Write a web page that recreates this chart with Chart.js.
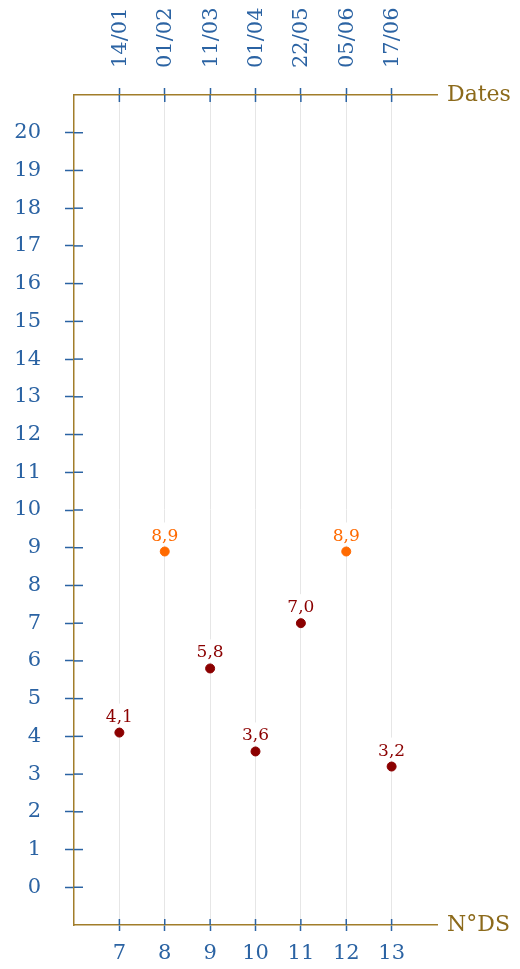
<!DOCTYPE html>
<html lang="fr">
<head>
  <meta charset="UTF-8" />
  <title>Notes DS</title>
  <script src="https://cdn.jsdelivr.net/npm/chart.js"></script>
  <style>
    body { margin: 0; background: #fff; }
    #wrap { width: 520px; height: 969px; position: relative; }
  </style>
</head>
<body>
  <div id="wrap"><canvas id="chart"></canvas></div>
  <script>
    // numéros de DS, dates et notes
    const dsNumbers = [7, 8, 9, 10, 11, 12, 13];
    const dsDates = ["14/01", "01/02", "11/03", "01/04", "22/05", "05/06", "17/06"];
    const notes = [4.1, 8.9, 5.8, 3.6, 7.0, 8.9, 3.2];
    const yTicks = [0, 1, 2, 3, 4, 5, 6, 7, 8, 9, 10, 11, 12, 13, 14, 15, 16, 17, 18, 19, 20];

    const BLUE = "#2b63a3";
    const GOLD = "#a17d2a";
    const GOLD_TEXT = "#8c6a1b";
    const RED = "#8b0000";
    const ORANGE = "#ff6a00";
    const FONT = "'DejaVu Serif', serif";

    const best = Math.max(...notes);
    const pointColors = notes.map(n => n === best ? ORANGE : RED);

    const fmt = v => v.toFixed(1).replace(".", ",");

    // demi-graduations côté intérieur, dates en haut, titres d'axes, étiquettes
    const extras = {
      id: "extras",
      afterDatasetsDraw(chart) {
        const { ctx, chartArea, scales } = chart;
        ctx.save();
        ctx.strokeStyle = BLUE;
        ctx.lineWidth = 1.5;
        yTicks.forEach(v => {
          const y = scales.y.getPixelForValue(v);
          ctx.beginPath();
          ctx.moveTo(chartArea.left, y);
          ctx.lineTo(chartArea.left + 9, y);
          ctx.stroke();
        });
        dsNumbers.forEach(v => {
          const x = scales.x.getPixelForValue(v);
          ctx.beginPath();
          ctx.moveTo(x, chartArea.bottom);
          ctx.lineTo(x, chartArea.bottom - 6);
          ctx.moveTo(x, chartArea.top);
          ctx.lineTo(x, chartArea.top + 7);
          ctx.stroke();
        });

        // dates verticales au-dessus de l'axe du haut
        ctx.fillStyle = BLUE;
        ctx.font = "21px " + FONT;
        ctx.textAlign = "left";
        ctx.textBaseline = "middle";
        dsNumbers.forEach((v, i) => {
          const x = scales.x2.getPixelForValue(v);
          ctx.save();
          ctx.translate(x + 1, chartArea.top - 27);
          ctx.rotate(-Math.PI / 2);
          ctx.fillText(dsDates[i], 0, 0);
          ctx.restore();
        });

        ctx.fillStyle = GOLD_TEXT;
        ctx.font = "22px " + FONT;
        ctx.fillText("Dates", chartArea.right + 10, chartArea.top);
        ctx.fillText("N°DS", chartArea.right + 10, chartArea.bottom);

        ctx.font = "17px " + FONT;
        ctx.textAlign = "center";
        ctx.textBaseline = "alphabetic";
        const meta = chart.getDatasetMeta(0);
        meta.data.forEach((pt, i) => {
          const txt = fmt(notes[i]);
          const w = ctx.measureText(txt).width;
          ctx.fillStyle = "#fff";
          ctx.fillRect(pt.x - w / 2 - 3, pt.y - 29, w + 6, 23);
          ctx.fillStyle = pointColors[i];
          ctx.fillText(txt, pt.x, pt.y - 11);
        });
        ctx.restore();
      }
    };

    new Chart(document.getElementById("chart"), {
      type: "scatter",
      data: {
        datasets: [{
          data: dsNumbers.map((n, i) => ({ x: n, y: notes[i] })),
          backgroundColor: pointColors,
          borderColor: pointColors,
          pointRadius: 4.5,
          pointHoverRadius: 4.5
        }]
      },
      options: {
        responsive: true,
        maintainAspectRatio: false,
        animation: false,
        layout: { padding: { top: 0, right: 83, bottom: 0, left: 0 } },
        plugins: { legend: { display: false }, tooltip: { enabled: false } },
        scales: {
          x: {
            type: "linear",
            position: "bottom",
            min: 6,
            max: 14,
            afterBuildTicks: s => { s.ticks = dsNumbers.map(v => ({ value: v })); },
            afterFit: s => { s.height = 44; },
            grid: { color: "#e6e6e6", lineWidth: 1, tickColor: BLUE, tickLength: 6, tickWidth: 1.5 },
            border: { color: GOLD, width: 1.5 },
            ticks: { color: BLUE, font: { family: FONT, size: 21 }, padding: 10, autoSkip: false, maxRotation: 0 }
          },
          x2: {
            type: "linear",
            position: "top",
            min: 6,
            max: 14,
            afterBuildTicks: s => { s.ticks = dsNumbers.map(v => ({ value: v })); },
            afterFit: s => { s.height = 95; },
            grid: { drawOnChartArea: false, tickColor: BLUE, tickLength: 7, tickWidth: 1.5 },
            border: { color: GOLD, width: 1.5 },
            ticks: { display: false }
          },
          y: {
            type: "linear",
            position: "left",
            min: -1,
            max: 21,
            afterBuildTicks: s => { s.ticks = yTicks.map(v => ({ value: v })); },
            afterFit: s => { s.width = 74; },
            grid: { drawOnChartArea: false, tickColor: BLUE, tickLength: 9, tickWidth: 1.5 },
            border: { color: GOLD, width: 1.5 },
            ticks: { color: BLUE, font: { family: FONT, size: 21 }, padding: 24 }
          }
        }
      },
      plugins: [extras]
    });
  </script>
</body>
</html>
